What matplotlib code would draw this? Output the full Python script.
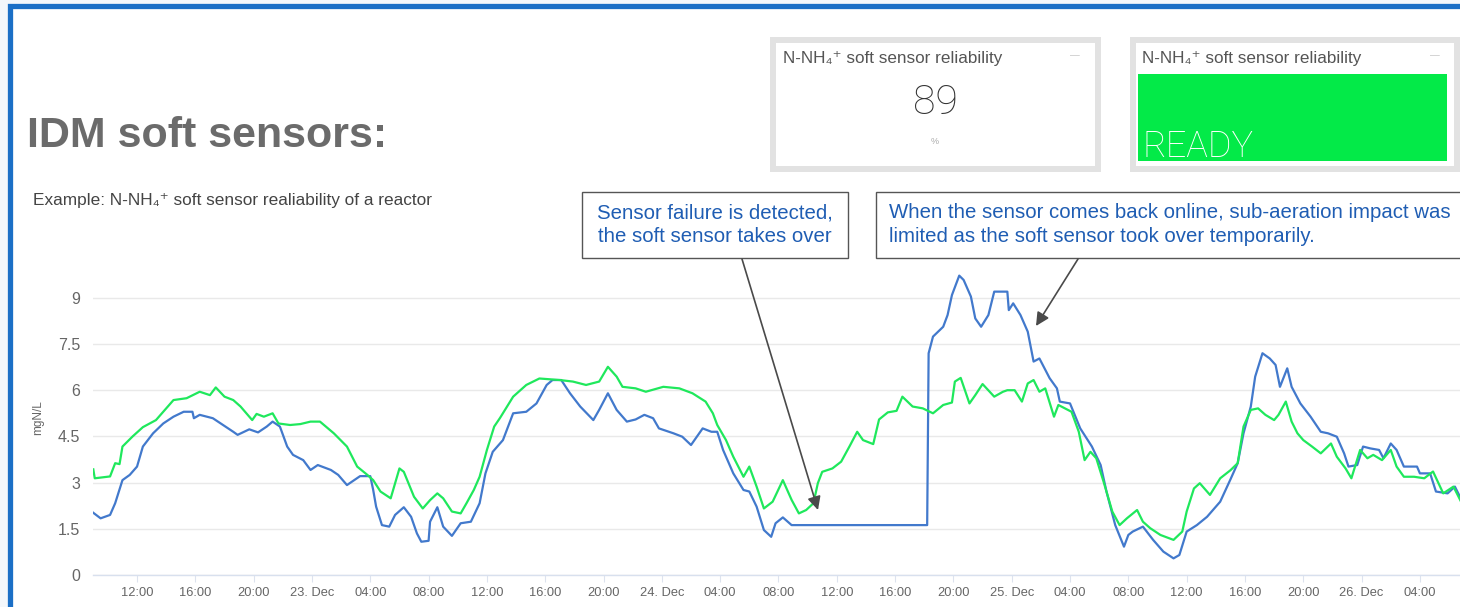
import matplotlib
matplotlib.use("Agg")
import matplotlib.pyplot as plt
from matplotlib.patches import Rectangle, FancyArrowPatch

# ---------------------------------------------------------------------------
# Data: hours counted from 22 Dec 00:00, concentration in mgN/L
# ---------------------------------------------------------------------------
soft_hours = [9.0, 9.1, 10.15, 10.5, 10.8, 11.0, 11.7, 12.4, 13.3, 14.5, 15.4, 16.3, 17.0,
              17.4, 18.0, 18.6, 19.1, 19.9, 20.2, 20.7, 21.3, 21.7, 22.5, 23.2, 23.9, 24.55,
              25.5, 26.4, 27.1, 27.8, 28.2, 28.7, 29.4, 30.0, 30.3, 31.0, 31.6, 32.1, 32.6,
              33.0, 33.6, 34.2, 34.6, 35.1, 35.5, 36.0, 36.5, 36.9, 37.8, 38.7, 39.6, 41.0,
              41.9, 42.8, 43.7, 44.3, 44.9, 45.3, 46.2, 46.9, 48.1, 49.2, 50.1, 51.0, 51.5,
              51.8, 52.4, 52.9, 53.6, 54.0, 54.5, 55.0, 55.6, 56.3, 56.9, 57.4, 57.9, 58.4,
              58.7, 59.0, 59.7, 60.3, 60.9, 61.4, 61.8, 62.5, 62.9, 63.5, 64.1, 64.5, 65.2,
              65.9, 66.6, 67.3, 67.9, 68.1, 68.5, 69.1, 69.5, 70.0, 70.8, 71.4, 71.7, 72.2,
              72.7, 73.1, 73.5, 73.9, 74.3, 74.9, 75.2, 76.1, 76.6, 77.0, 77.4, 77.8, 78.3,
              78.9, 79.4, 79.9, 80.6, 81.0, 81.5, 82.2, 83.1, 83.7, 84.0, 84.5, 84.9, 85.6,
              86.3, 87.0, 87.5, 87.9, 88.4, 88.9, 89.4, 90.0, 90.3, 90.8, 91.2, 91.6, 92.0,
              92.6, 93.2, 93.9, 94.3, 94.9, 95.3, 95.9, 96.4, 96.8, 97.4, 98.0, 98.4, 98.9,
              99.6, 100.3, 100.9, 101.6, 102.3, 102.8]
soft_values = [3.43, 3.14, 3.2, 3.63, 3.6, 4.17, 4.5, 4.8, 5.03, 5.68, 5.74, 5.95, 5.84,
               6.09, 5.79, 5.68, 5.47, 5.03, 5.23, 5.14, 5.25, 4.92, 4.87, 4.9, 4.98, 4.98,
               4.6, 4.17, 3.52, 3.25, 3.08, 2.71, 2.49, 3.46, 3.35, 2.54, 2.16, 2.43, 2.65,
               2.49, 2.06, 2.0, 2.33, 2.76, 3.19, 4.06, 4.82, 5.1, 5.79, 6.17, 6.38, 6.33,
               6.28, 6.17, 6.28, 6.76, 6.44, 6.11, 6.06, 5.95, 6.11, 6.06, 5.9, 5.63, 5.25,
               4.87, 4.38, 3.84, 3.19, 3.52, 2.87, 2.16, 2.38, 3.08, 2.44, 2.0, 2.11, 2.33,
               2.98, 3.35, 3.46, 3.68, 4.2, 4.65, 4.38, 4.25, 5.05, 5.28, 5.33, 5.79, 5.47,
               5.41, 5.25, 5.52, 5.6, 6.28, 6.4, 5.57, 5.84, 6.2, 5.79, 5.95, 6.0, 6.0,
               5.63, 6.22, 6.33, 5.95, 6.06, 5.14, 5.52, 5.3, 4.65, 3.73, 4.0, 3.79, 3.03,
               2.06, 1.62, 1.84, 2.11, 1.73, 1.52, 1.3, 1.14, 1.41, 2.06, 2.81, 2.98, 2.6,
               3.14, 3.4, 3.63, 4.82, 5.36, 5.41, 5.2, 5.03, 5.2, 5.63, 4.98, 4.6, 4.38,
               4.17, 3.95, 4.27, 3.84, 3.46, 3.14, 4.06, 3.79, 3.9, 3.73, 4.06, 3.52, 3.19,
               3.19, 3.14, 3.36, 2.65, 2.87, 2.4]

probe_hours = [9.0, 9.5, 10.15, 10.5, 11.0, 11.5, 12.0, 12.4, 13.1, 13.8, 14.5, 15.2, 15.8,
               15.9, 16.3, 17.2, 17.9, 18.6, 18.9, 19.7, 20.3, 20.9, 21.3, 21.8, 22.3, 22.7,
               23.4, 23.9, 24.4, 25.3, 25.8, 26.4, 26.9, 27.3, 28.0, 28.2, 28.4, 28.8, 29.3,
               29.7, 30.3, 30.8, 31.2, 31.5, 32.0, 32.1, 32.6, 33.0, 33.6, 34.2, 34.9, 35.5,
               35.9, 36.4, 37.1, 37.8, 38.7, 39.4, 40.1, 40.5, 41.1, 41.7, 42.4, 43.3, 43.7,
               44.3, 44.9, 45.6, 46.2, 46.8, 47.4, 47.8, 48.8, 49.4, 50.0, 50.8, 51.4, 51.8,
               52.2, 52.9, 53.6, 54.0, 54.5, 55.0, 55.5, 55.8, 56.3, 56.9, 57.7, 66.2, 66.3,
               66.6, 67.3, 67.6, 67.9, 68.4, 68.7, 69.2, 69.5, 69.9, 70.4, 70.8, 71.4, 71.7,
               71.8, 72.1, 72.6, 73.1, 73.5, 73.9, 74.6, 75.1, 75.3, 76.0, 76.7, 77.5, 78.1,
               78.5, 79.1, 79.7, 80.0, 80.3, 81.0, 81.7, 82.4, 83.1, 83.5, 84.0, 84.7, 85.4,
               86.3, 87.0, 87.5, 87.9, 88.4, 88.7, 89.2, 89.7, 90.1, 90.4, 90.9, 91.2, 91.8,
               92.5, 93.2, 93.7, 94.3, 94.8, 95.1, 95.7, 96.1, 96.6, 97.2, 97.5, 98.0, 98.4,
               98.9, 99.8, 100.0, 100.7, 101.1, 101.9, 102.4, 102.8]
probe_values = [2.02, 1.84, 1.95, 2.33, 3.08, 3.25, 3.52, 4.17, 4.6, 4.92, 5.14, 5.3, 5.3,
                5.09, 5.2, 5.09, 4.87, 4.65, 4.55, 4.73, 4.63, 4.82, 4.98, 4.82, 4.17, 3.9,
                3.73, 3.41, 3.57, 3.41, 3.25, 2.92, 3.08, 3.21, 3.21, 2.76, 2.22, 1.62, 1.57,
                1.95, 2.2, 1.89, 1.35, 1.08, 1.11, 1.73, 2.2, 1.57, 1.27, 1.68, 1.73, 2.33,
                3.3, 4.0, 4.38, 5.25, 5.3, 5.57, 6.17, 6.33, 6.33, 5.9, 5.47, 5.03, 5.36,
                5.9, 5.36, 4.98, 5.05, 5.2, 5.09, 4.76, 4.6, 4.49, 4.22, 4.76, 4.65, 4.65,
                4.06, 3.3, 2.76, 2.71, 2.22, 1.46, 1.24, 1.68, 1.87, 1.62, 1.62, 1.62, 7.2,
                7.74, 8.06, 8.44, 9.09, 9.72, 9.58, 9.04, 8.33, 8.06, 8.44, 9.2, 9.2, 9.2,
                8.6, 8.82, 8.44, 7.9, 6.93, 7.03, 6.39, 6.06, 5.63, 5.57, 4.76, 4.17, 3.57,
                2.71, 1.62, 0.92, 1.3, 1.41, 1.57, 1.14, 0.76, 0.54, 0.65, 1.41, 1.62, 1.89,
                2.38, 3.1, 3.63, 4.6, 5.47, 6.44, 7.2, 7.03, 6.82, 6.11, 6.71, 6.11, 5.57,
                5.14, 4.65, 4.6, 4.49, 3.95, 3.52, 3.57, 4.17, 4.11, 4.06, 3.79, 4.27, 4.06,
                3.52, 3.52, 3.3, 3.3, 2.71, 2.65, 2.87, 2.49]

tick_hours = [12, 16, 20, 24, 28, 32, 36, 40, 44, 48, 52, 56, 60, 64, 68, 72, 76, 80, 84,
              88, 92, 96, 100]
tick_labels = ["12:00", "16:00", "20:00", "23. Dec", "04:00", "08:00", "12:00", "16:00",
               "20:00", "24. Dec", "04:00", "08:00", "12:00", "16:00", "20:00", "25. Dec",
               "04:00", "08:00", "12:00", "16:00", "20:00", "26. Dec", "04:00"]
y_ticks = [0, 1.5, 3, 4.5, 6, 7.5, 9]
y_tick_labels = ["0", "1.5", "3", "4.5", "6", "7.5", "9"]

reliability_pct = 89
status_text = "READY"

# ---------------------------------------------------------------------------
W, H = 1460, 607
SANS = ["Liberation Sans", "DejaVu Sans"]
plt.rcParams["font.family"] = SANS

fig = plt.figure(figsize=(W / 100, H / 100), dpi=100)
fig.patch.set_facecolor("white")


def fx(x):
    return x / W


def fy(y):
    return 1 - y / H


def frect(x0, y0, x1, y1, **kw):
    r = Rectangle((fx(x0), fy(y1)), fx(x1) - fx(x0), fy(y0) - fy(y1),
                  transform=fig.transFigure, **kw)
    fig.add_artist(r)
    return r


# slide frame (kept beneath the chart axes)
frect(0, 0, 1470, 620, facecolor="#f3f7fb", edgecolor="none", zorder=-3)
frect(10, 5.5, 1480, 640, facecolor="white", edgecolor="#1b6fc6", linewidth=3.8, zorder=-2)

# headings
fig.text(fx(27), fy(147), "IDM soft sensors:", fontsize=31, fontweight="bold",
         color="#6b6b6b", ha="left", va="baseline")
fig.text(fx(33), fy(205), "Example: N-NH\u2084\u207a soft sensor realiability of a reactor",
         fontsize=12.4, color="#444444", ha="left", va="baseline")

# dashboard tiles
wtitle = "N-NH\u2084\u207a soft sensor reliability"
frect(770, 37, 1101, 172, facecolor="#e2e2e2", edgecolor="none", zorder=1)
frect(776, 43, 1095, 166, facecolor="white", edgecolor="none", zorder=1.1)
fig.text(fx(783), fy(58), wtitle, fontsize=12.3, color="#555555", ha="left", va="center",
         zorder=2)
fig.text(fx(1075), fy(55), "\u2014", fontsize=7, color="#c8c8c8", ha="center", va="center")
fig.text(fx(935), fy(103), str(reliability_pct), fontsize=29.5, color="#333333",
         family=["Roboto", "Liberation Sans"], fontweight="light", ha="center", va="center")
fig.text(fx(935), fy(142), "%", fontsize=6.5, color="#aaaaaa", ha="center", va="center")

frect(1130, 37, 1470, 172, facecolor="#e2e2e2", edgecolor="none", zorder=1)
frect(1136, 43, 1454, 166, facecolor="white", edgecolor="none", zorder=1.1)
frect(1138, 74, 1447, 161, facecolor="#03ea48", edgecolor="none", zorder=1.2)
fig.text(fx(1142), fy(58), wtitle, fontsize=12.3, color="#555555", ha="left", va="center")
fig.text(fx(1435), fy(55), "\u2014", fontsize=7, color="#c8c8c8", ha="center", va="center")
fig.text(fx(1142), fy(157), status_text, fontsize=26, color="white",
         family=["Roboto", "Liberation Sans"], fontweight="light", ha="left",
         va="baseline", zorder=3)

# ---------------------------------------------------------------------------
# chart
left_px, right_px, top_px, bottom_px = 93.3, 1460, 267, 575
ax = fig.add_axes([fx(left_px), fy(bottom_px), fx(right_px) - fx(left_px),
                   fy(top_px) - fy(bottom_px)])
ax.set_zorder(0.5)
ax.set_facecolor("none")
ax.plot(probe_hours, probe_values, color="#4279cc", lw=1.6, zorder=3,
        solid_joinstyle="round")
ax.plot(soft_hours, soft_values, color="#1fe85c", lw=1.6, zorder=4,
        solid_joinstyle="round")
ax.set_xlim(9, 102.75)
ax.set_ylim(0, 10)
ax.set_yticks(y_ticks)
ax.set_yticklabels(y_tick_labels)
ax.set_xticks(tick_hours)
ax.set_xticklabels(tick_labels)
ax.grid(axis="y", color="#e9e9e9", lw=1.0)
ax.set_axisbelow(True)
for side in ("top", "right", "left"):
    ax.spines[side].set_visible(False)
ax.spines["bottom"].set_color("#d8e0ee")
ax.spines["bottom"].set_linewidth(1.0)
ax.tick_params(axis="y", length=0, pad=9.5, labelsize=11.5, labelcolor="#666666")
ax.tick_params(axis="x", length=5, color="#dde3ee", pad=4, labelsize=9.3,
               labelcolor="#666666")
fig.text(fx(38), fy(418), "mgN/L", rotation=90, fontsize=8.5, color="#666666",
         ha="center", va="center")

# callouts
CALL_FS = 14.7
frect(582, 192, 848, 258, facecolor="white", edgecolor="#555555", linewidth=1.0, zorder=5)
fig.text(fx(715), fy(213), "Sensor failure is detected,", fontsize=CALL_FS, color="#1f5db3",
         ha="center", va="center", zorder=6)
fig.text(fx(715), fy(237), "the soft sensor takes over", fontsize=CALL_FS, color="#1f5db3",
         ha="center", va="center", zorder=6)

frect(876, 192, 1463, 258, facecolor="white", edgecolor="#555555", linewidth=1.0, zorder=5)
fig.text(fx(889), fy(213), "When the sensor comes back online, sub-aeration impact was",
         fontsize=CALL_FS, color="#1f5db3", ha="left", va="center", zorder=6)
fig.text(fx(889), fy(237), "limited as the soft sensor took over temporarily.",
         fontsize=CALL_FS, color="#1f5db3", ha="left", va="center", zorder=6)

for (x0, y0), (x1, y1) in [((742, 259), (818, 510)), ((1078, 259), (1036, 326))]:
    fig.add_artist(FancyArrowPatch((fx(x0), fy(y0)), (fx(x1), fy(y1)),
                                   transform=fig.transFigure, arrowstyle="-|>",
                                   mutation_scale=20, color="#4a4a4a", lw=1.2,
                                   shrinkA=0, shrinkB=0, zorder=7))

fig.savefig("out.png", dpi=100)
